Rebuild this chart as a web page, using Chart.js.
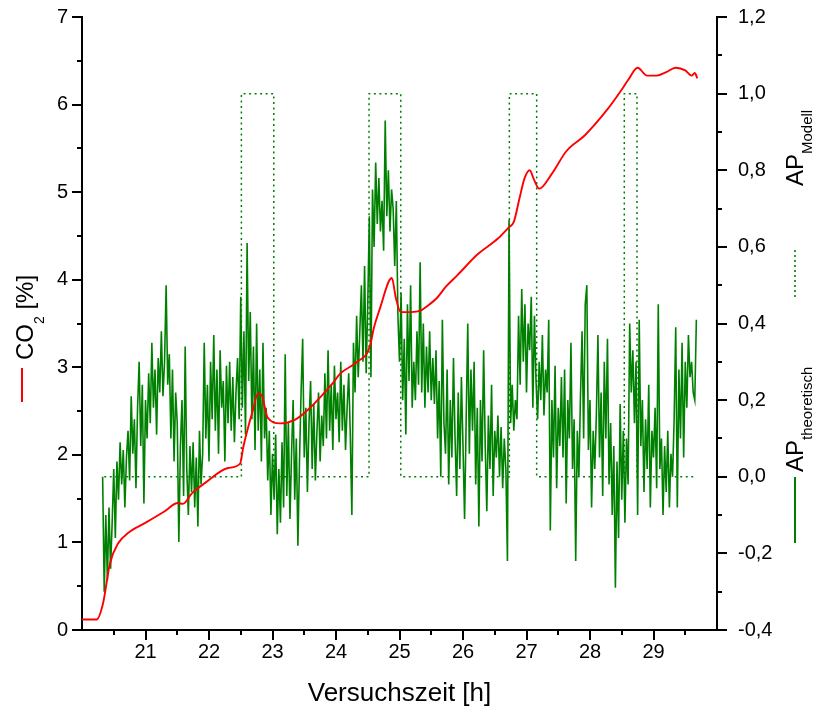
<!DOCTYPE html>
<html><head><meta charset="utf-8">
<script src="https://cdn.jsdelivr.net/npm/chart.js@4/dist/chart.umd.min.js"></script>
<style>html,body{margin:0;padding:0;background:#fff}canvas{display:block}</style>
</head><body>
<canvas id="c" width="817" height="713"></canvas>
<script>
// ---- data ----
const co2Time = [20.0, 20.23, 20.33, 20.44, 20.57, 20.73, 20.99, 21.29, 21.51, 21.59, 21.73, 21.94, 22.3, 22.49, 22.54, 22.69, 22.77, 22.83, 22.92, 23.12, 23.35, 23.55, 23.95, 24.07, 24.33, 24.53, 24.6, 24.7, 24.83, 24.88, 24.94, 25.02, 25.18, 25.34, 25.44, 25.6, 25.73, 25.91, 26.23, 26.55, 26.71, 26.8, 26.89, 26.97, 27.05, 27.12, 27.2, 27.39, 27.63, 27.92, 28.28, 28.49, 28.6, 28.75, 28.9, 29.05, 29.2, 29.35, 29.5, 29.6, 29.65, 29.69];
const co2Values = [0.12, 0.12, 0.30, 0.76, 0.99, 1.11, 1.22, 1.35, 1.45, 1.44, 1.56, 1.68, 1.85, 1.90, 2.09, 2.51, 2.70, 2.68, 2.43, 2.36, 2.40, 2.51, 2.82, 2.93, 3.06, 3.23, 3.46, 3.69, 3.98, 4.02, 3.80, 3.63, 3.63, 3.65, 3.70, 3.80, 3.92, 4.05, 4.29, 4.47, 4.59, 4.66, 4.93, 5.16, 5.25, 5.14, 5.04, 5.20, 5.47, 5.65, 5.95, 6.16, 6.28, 6.42, 6.33, 6.33, 6.37, 6.42, 6.39, 6.33, 6.36, 6.30];

const modellTime = [20.35, 22.51, 22.51, 23.02, 23.02, 24.52, 24.52, 25.02, 25.02, 26.73, 26.73, 27.16, 27.16, 28.54, 28.54, 28.74, 28.74, 29.63];
const modellValues = [0, 0, 1, 1, 0, 0, 1, 1, 0, 0, 1, 1, 0, 0, 1, 1, 0, 0];

// AP theoretisch: sampled every apStep hours starting at apStart
const apStart = 20.325;
const apStep = 0.025;
const apTheoretisch = [
 0.00, -0.30, -0.10, -0.27, -0.08, -0.24, -0.12, 0.02, -0.16, 0.04,
 -0.06, 0.09, -0.02, 0.07, -0.08, 0.05, 0.12, -0.01, 0.21, 0.06,
 0.15, -0.03, 0.18, 0.30, 0.08, 0.24, -0.07, 0.20, 0.10, 0.27,
 0.14, 0.35, 0.18, 0.28, 0.11, 0.31, 0.22, 0.38, 0.21, 0.30,
 0.50, 0.24, 0.32, 0.10, 0.28, 0.04, 0.22, 0.14, -0.17, 0.08,
 0.20, -0.05, 0.34, 0.02, -0.10, 0.08, -0.04, 0.09, -0.08, 0.05,
 -0.13, 0.12, -0.02, 0.06, 0.35, 0.10, 0.24, 0.04, 0.30, 0.15,
 0.37, 0.12, 0.28, 0.06, 0.33, 0.18, 0.25, 0.04, 0.29, 0.14,
 0.30, 0.12, 0.26, 0.09, 0.22, 0.31, 0.15, 0.47, 0.18, 0.38,
 0.11, 0.61, 0.25, 0.43, 0.15, 0.34, 0.07, 0.40, 0.12, 0.28,
 0.04, 0.35, 0.10, 0.18, -0.01, 0.12, -0.10, 0.06, -0.06, 0.11,
 -0.15, 0.02, -0.12, 0.09, -0.08, 0.32, -0.05, 0.14, -0.11, 0.06,
 0.20, -0.06, 0.10, -0.18, 0.04, 0.22, 0.36, 0.05, 0.18, -0.04,
 0.14, 0.25, 0.02, 0.19, -0.01, 0.12, 0.22, 0.04, 0.16, 0.08,
 0.27, 0.10, 0.33, 0.12, 0.24, 0.07, 0.29, 0.15, 0.22, 0.09,
 0.30, 0.12, 0.24, 0.07, 0.18, 0.27, 0.11, -0.10, 0.35, 0.22,
 0.42, 0.26, 0.38, 0.50, 0.30, 0.55, 0.27, 0.45, 0.68, 0.26,
 0.75, 0.60, 0.82, 0.66, 0.78, 0.64, 0.72, 0.59, 0.93, 0.68,
 0.80, 0.64, 0.75, 0.70, 0.55, 0.72, 0.42, 0.30, 0.48, 0.20,
 0.36, 0.11, 0.45, 0.25, 0.50, 0.18, 0.30, 0.20, 0.38, 0.24,
 0.56, 0.22, 0.40, 0.18, 0.34, 0.22, 0.38, 0.20, 0.31, 0.19,
 0.33, 0.10, 0.25, 0.00, 0.41, 0.14, 0.06, 0.28, -0.02, 0.20,
 0.05, 0.31, 0.10, -0.05, 0.22, 0.02, 0.26, 0.08, -0.11, 0.15,
 0.40, 0.06, 0.28, 0.12, 0.30, -0.02, 0.18, -0.13, 0.20, 0.04,
 0.33, 0.08, -0.09, 0.16, 0.02, 0.24, -0.05, 0.12, 0.05, 0.16,
 0.00, 0.13, -0.03, 0.10, 0.02, -0.22, 0.67, 0.14, 0.24, 0.12,
 0.20, 0.15, 0.42, 0.24, 0.49, 0.30, 0.45, 0.22, 0.40, 0.33,
 0.47, 0.18, 0.42, 0.25, 0.15, 0.30, 0.20, 0.37, 0.16, 0.28,
 0.22, 0.41, -0.14, 0.20, 0.05, 0.29, -0.03, 0.18, 0.08, 0.26,
 0.05, 0.28, -0.07, 0.20, 0.10, 0.35, 0.02, 0.15, -0.22, 0.12,
 0.00, 0.21, 0.38, 0.10, 0.45, 0.50, 0.07, 0.20, -0.08, 0.12,
 0.02, 0.16, 0.37, 0.05, 0.22, -0.05, 0.30, 0.10, 0.36, -0.02,
 0.14, -0.10, 0.08, -0.29, 0.04, -0.16, 0.19, -0.06, 0.12, -0.12,
 0.10, -0.02, 0.40, 0.22, 0.33, 0.14, 0.30, -0.10, 0.41, 0.08,
 0.20, -0.04, 0.15, 0.02, 0.24, -0.08, 0.12, 0.05, 0.18, -0.03,
 0.45, 0.02, 0.10, -0.10, 0.08, -0.04, 0.12, -0.08, 0.06, 0.00,
 0.15, 0.39, -0.08, 0.28, 0.10, 0.35, 0.05, 0.30, 0.18, 0.37,
 0.26, 0.30, 0.22, 0.20, 0.41
];

// ---- ticks ----
const xTickLabels = [21, 22, 23, 24, 25, 26, 27, 28, 29];
const xMinorTicks = [20.5, 21.5, 22.5, 23.5, 24.5, 25.5, 26.5, 27.5, 28.5, 29.5];
const leftTicks = [0, 1, 2, 3, 4, 5, 6, 7];
const leftMinorTicks = [0.5, 1.5, 2.5, 3.5, 4.5, 5.5, 6.5];
const rightTicks = [-0.4, -0.2, 0.0, 0.2, 0.4, 0.6, 0.8, 1.0, 1.2];
const rightMinorTicks = [-0.3, -0.1, 0.1, 0.3, 0.5, 0.7, 0.9, 1.1];

const FONT = '"Liberation Sans", Arial, sans-serif';
Chart.defaults.font.family = FONT;
Chart.defaults.color = '#000';

function fmtComma(v) {
  let r = Math.round(v * 10) / 10;
  if (Math.abs(r) < 1e-9) r = 0;
  return r.toFixed(1).replace('.', ',');
}

function drawRotated(ctx, xBase, yStart, parts) {
  ctx.save();
  ctx.translate(xBase, yStart);
  ctx.rotate(-Math.PI / 2);
  ctx.textBaseline = 'alphabetic';
  ctx.textAlign = 'left';
  ctx.fillStyle = '#000';
  let pos = 0;
  for (const p of parts) {
    ctx.font = p.size + 'px ' + FONT;
    ctx.fillText(p.text, pos, p.dy);
    pos += ctx.measureText(p.text).width;
  }
  ctx.restore();
}

const decor = {
  id: 'decor',
  afterDraw(chart) {
    const ctx = chart.ctx;
    const xs = chart.scales.x, yl = chart.scales.y, yr = chart.scales.y1;
    ctx.save();
    ctx.strokeStyle = '#000';
    ctx.lineWidth = 2;
    ctx.beginPath();
    const L = yl.right, R = yr.left, B = xs.top;
    leftTicks.forEach(v => { const y = Math.round(yl.getPixelForValue(v)); ctx.moveTo(L - 10, y); ctx.lineTo(L, y); });
    leftMinorTicks.forEach(v => { const y = Math.round(yl.getPixelForValue(v)); ctx.moveTo(L - 5, y); ctx.lineTo(L, y); });
    rightTicks.forEach(v => { const y = Math.round(yr.getPixelForValue(v)); ctx.moveTo(R, y); ctx.lineTo(R + 10, y); });
    rightMinorTicks.forEach(v => { const y = Math.round(yr.getPixelForValue(v)); ctx.moveTo(R, y); ctx.lineTo(R + 5, y); });
    xTickLabels.forEach(v => { const x = Math.round(xs.getPixelForValue(v)); ctx.moveTo(x, B); ctx.lineTo(x, B + 10); });
    xMinorTicks.forEach(v => { const x = Math.round(xs.getPixelForValue(v)); ctx.moveTo(x, B); ctx.lineTo(x, B + 5); });
    ctx.stroke();

    // x axis title
    ctx.fillStyle = '#000';
    ctx.font = '26px ' + FONT;
    ctx.textAlign = 'center';
    ctx.textBaseline = 'middle';
    ctx.fillText('Versuchszeit [h]', (xs.left + xs.right) / 2, 694);

    // left legend (CO2)
    ctx.strokeStyle = '#ff0000';
    ctx.lineWidth = 2;
    ctx.beginPath(); ctx.moveTo(22, 368); ctx.lineTo(22, 402); ctx.stroke();
    drawRotated(ctx, 33, 360, [
      {text: 'CO', size: 24, dy: 0},
      {text: '2', size: 14, dy: 11},
      {text: ' [%]', size: 24, dy: 0}
    ]);

    // right legends
    ctx.strokeStyle = '#008000';
    ctx.lineWidth = 1.6;
    ctx.setLineDash([2, 3]);
    ctx.beginPath(); ctx.moveTo(795, 250); ctx.lineTo(795, 300); ctx.stroke();
    ctx.setLineDash([]);
    ctx.lineWidth = 2;
    ctx.beginPath(); ctx.moveTo(795, 477); ctx.lineTo(795, 543); ctx.stroke();

    drawRotated(ctx, 803, 186, [
      {text: 'AP', size: 24, dy: 0},
      {text: 'Modell', size: 15, dy: 9}
    ]);
    drawRotated(ctx, 803, 472, [
      {text: 'AP', size: 24, dy: 0},
      {text: 'theoretisch', size: 15, dy: 9}
    ]);
    ctx.restore();
  }
};

const co2Data = co2Time.map((t, i) => ({x: t, y: co2Values[i]}));
const modellData = modellTime.map((t, i) => ({x: t, y: modellValues[i]}));
const apData = apTheoretisch.map((v, i) => ({x: apStart + i * apStep, y: v}));

const fixV = w => s => { s.width = w; s.paddingTop = 0; s.paddingBottom = 0; };

new Chart(document.getElementById('c'), {
  type: 'line',
  data: {
    datasets: [
      {label: 'CO2 [%]', data: co2Data, yAxisID: 'y', borderColor: '#ff0000', borderWidth: 1.9,
       pointRadius: 0, cubicInterpolationMode: 'monotone', fill: false},
      {label: 'AP theoretisch', data: apData, yAxisID: 'y1', borderColor: '#008000', borderWidth: 1.6,
       pointRadius: 0, tension: 0, fill: false},
      {label: 'AP Modell', data: modellData, yAxisID: 'y1', borderColor: '#008000', borderWidth: 1.5,
       borderDash: [2, 3.5], pointRadius: 0, tension: 0, fill: false}
    ]
  },
  options: {
    responsive: false,
    animation: false,
    layout: {padding: {top: 17, left: 0, right: 0, bottom: 0}},
    plugins: {legend: {display: false}, tooltip: {enabled: false}},
    scales: {
      x: {
        type: 'linear', min: 20, max: 30,
        grid: {display: false, drawTicks: false},
        border: {display: true, color: '#000', width: 2},
        ticks: {stepSize: 1, autoSkip: false, maxRotation: 0, padding: 10,
                font: {size: 20},
                callback: v => xTickLabels.includes(v) ? String(v) : ''},
        afterFit: s => { s.height = 83; s.paddingLeft = 0; s.paddingRight = 0; }
      },
      y: {
        type: 'linear', position: 'left', min: 0, max: 7,
        grid: {display: false, drawTicks: false},
        border: {display: true, color: '#000', width: 2},
        ticks: {stepSize: 1, padding: 14, font: {size: 20},
                callback: v => leftTicks.includes(v) ? String(v) : ''},
        afterFit: fixV(82)
      },
      y1: {
        type: 'linear', position: 'right', min: -0.4, max: 1.2,
        grid: {display: false, drawTicks: false},
        border: {display: true, color: '#000', width: 2},
        ticks: {stepSize: 0.2, padding: 21, font: {size: 20},
                callback: v => fmtComma(v)},
        afterFit: fixV(100)
      }
    }
  },
  plugins: [decor]
});
</script>
</body></html>
